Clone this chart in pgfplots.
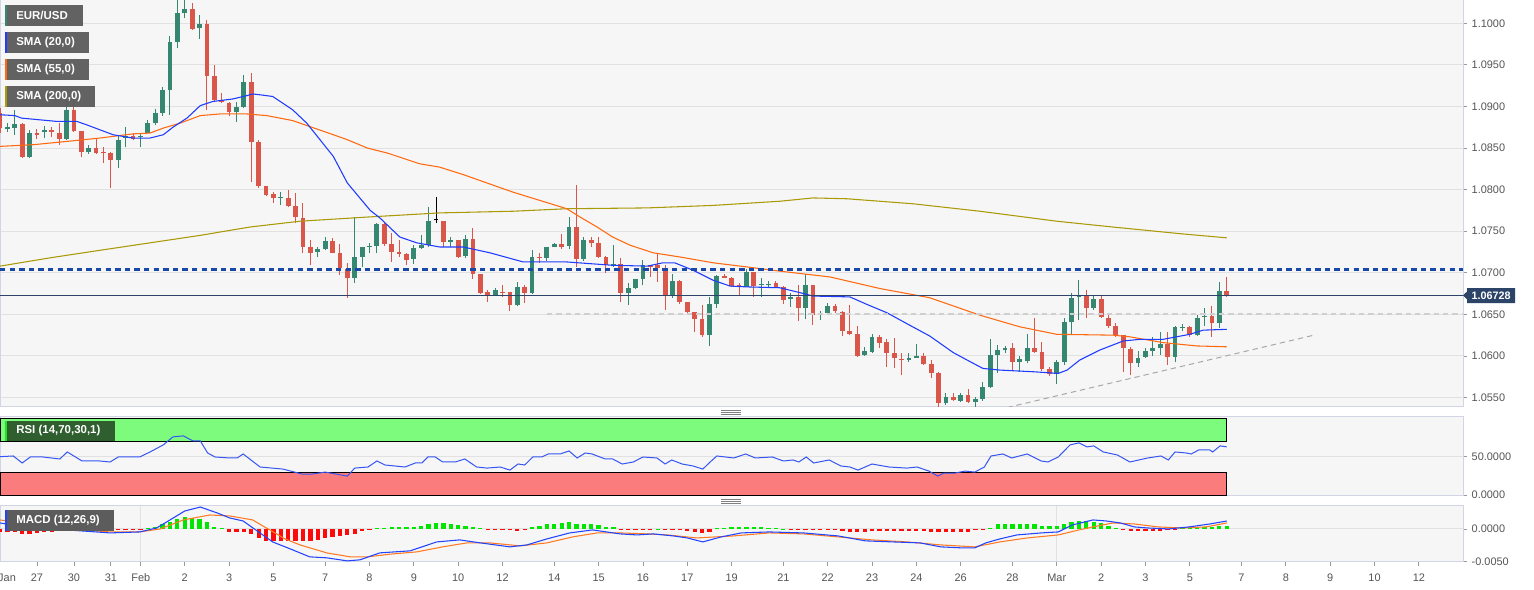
\documentclass[border=0pt]{standalone}
\usepackage{pgfplots}
\pgfplotsset{compat=1.18}
\usepackage{pgfplotstable}
\usepackage{fontspec}
\setmainfont{Liberation Sans}

\definecolor{cup}{HTML}{358771}
\definecolor{cdn}{HTML}{D9574A}
\definecolor{smab}{HTML}{1F3BFF}
\definecolor{smao}{HTML}{FF6A10}
\definecolor{smay}{HTML}{AA9A08}
\definecolor{bgc}{HTML}{F6F6F6}
\definecolor{gridc}{HTML}{E1E1E1}
\definecolor{framec}{HTML}{D2D6E4}
\definecolor{tickc}{HTML}{9A9A9A}
\definecolor{labc}{HTML}{555555}
\definecolor{navyc}{HTML}{2C4468}
\definecolor{dashb}{HTML}{1A48A8}
\definecolor{legbg}{HTML}{5C5C5C}
\definecolor{rsig}{HTML}{7DFB7D}
\definecolor{rsir}{HTML}{FB7C7C}
\definecolor{rsil}{HTML}{3556F2}
\definecolor{rsibox}{HTML}{2F5E2F}
\definecolor{rsistripe}{HTML}{22E022}
\definecolor{hgreen}{HTML}{00E600}
\definecolor{hred}{HTML}{FF0A0A}
\definecolor{macdb}{HTML}{2244FF}
\definecolor{macdo}{HTML}{FF7A22}
\definecolor{lgray}{HTML}{CFCFCF}
\definecolor{tgray}{HTML}{A8A8A8}

% ---------- candles (4h bars), x = bar index ----------
\pgfplotstableread{
x o h l c
1 1.0873 1.0880 1.0869 1.0875
2 1.0874 1.0896 1.0866 1.0879
4 1.0839 1.0872 1.0838 1.0868
6 1.0869 1.0876 1.0862 1.0872
9 1.0861 1.0914 1.0860 1.0896
12 1.0845 1.0854 1.0843 1.0850
16 1.0836 1.0866 1.0826 1.0860
17 1.0862 1.0875 1.0851 1.0864
19 1.0863 1.0868 1.0851 1.0864
20 1.0868 1.0884 1.0868 1.0880
21 1.0880 1.0897 1.0878 1.0892
22 1.0892 1.0923 1.0889 1.0920
23 1.0920 1.0985 1.0890 1.0977
24 1.0977 1.1034 1.0970 1.1012
25 1.1012 1.1034 1.1006 1.1017
27 1.0994 1.1010 1.0981 1.0999
32 1.0893 1.0905 1.0881 1.0899
33 1.0899 1.0938 1.0898 1.0929
38 1.0790 1.0797 1.0781 1.0791
43 1.0725 1.0731 1.0719 1.0729
44 1.0729 1.0743 1.0727 1.0738
48 1.0694 1.0767 1.0688 1.0719
49 1.0719 1.0731 1.0707 1.0731
50 1.0731 1.0736 1.0724 1.0732
51 1.0732 1.0760 1.0724 1.0759
56 1.0717 1.0733 1.0711 1.0730
57 1.0730 1.0745 1.0729 1.0733
58 1.0733 1.0779 1.0731 1.0762
61 1.0737 1.0743 1.0731 1.0739
63 1.0720 1.0745 1.0718 1.0741
67 1.0673 1.0682 1.0672 1.0679
70 1.0661 1.0689 1.0660 1.0683
72 1.0676 1.0727 1.0675 1.0719
74 1.0718 1.0731 1.0714 1.0731
75 1.0731 1.0736 1.0731 1.0735
77 1.0732 1.0767 1.0729 1.0755
79 1.0717 1.0743 1.0714 1.0739
83 1.0708 1.0733 1.0707 1.0711
85 1.0676 1.0688 1.0661 1.0682
86 1.0682 1.0693 1.0681 1.0693
87 1.0693 1.0715 1.0685 1.0709
91 1.0673 1.0699 1.0670 1.0690
96 1.0625 1.0671 1.0612 1.0662
97 1.0662 1.0697 1.0658 1.0696
101 1.0683 1.0705 1.0683 1.0701
103 1.0685 1.0694 1.0671 1.0686
104 1.0685 1.0690 1.0683 1.0686
107 1.0668 1.0676 1.0659 1.0671
109 1.0658 1.0699 1.0644 1.0685
111 1.0649 1.0654 1.0643 1.0652
112 1.0652 1.0664 1.0650 1.0660
117 1.0601 1.0611 1.0600 1.0606
118 1.0605 1.0626 1.0604 1.0623
123 1.0595 1.0604 1.0593 1.0598
124 1.0598 1.0614 1.0598 1.0600
128 1.0543 1.0555 1.0541 1.0551
130 1.0546 1.0555 1.0545 1.0553
132 1.0545 1.0551 1.0537 1.0548
133 1.0548 1.0569 1.0546 1.0563
134 1.0563 1.0620 1.0561 1.0601
135 1.0601 1.0613 1.0579 1.0607
136 1.0607 1.0612 1.0604 1.0610
138 1.0593 1.0600 1.0581 1.0596
139 1.0594 1.0626 1.0591 1.0610
143 1.0578 1.0595 1.0566 1.0593
144 1.0593 1.0646 1.0589 1.0641
145 1.0641 1.0676 1.0626 1.0670
146 1.0671 1.0691 1.0643 1.0673
148 1.0658 1.0672 1.0655 1.0668
154 1.0591 1.0606 1.0587 1.0598
155 1.0599 1.0610 1.0598 1.0606
156 1.0606 1.0623 1.0600 1.0610
157 1.0610 1.0629 1.0601 1.0614
159 1.0599 1.0636 1.0593 1.0635
160 1.0634 1.0638 1.0630 1.0635
162 1.0625 1.0649 1.0624 1.0646
163 1.0647 1.0658 1.0636 1.0648
165 1.0640 1.0689 1.0634 1.0678
}\upc

\pgfplotstableread{
x o h l c
0 1.0892 1.0898 1.0868 1.0874
3 1.0879 1.0880 1.0838 1.0839
5 1.0868 1.0873 1.0861 1.0866
7 1.0872 1.0875 1.0863 1.0869
8 1.0868 1.0880 1.0854 1.0861
10 1.0896 1.0911 1.0869 1.0870
11 1.0870 1.0870 1.0839 1.0845
13 1.0850 1.0861 1.0843 1.0844
14 1.0845 1.0851 1.0832 1.0844
15 1.0844 1.0845 1.0802 1.0836
18 1.0864 1.0868 1.0860 1.0861
26 1.1017 1.1024 1.0992 1.0993
28 1.0999 1.1004 1.0896 1.0937
29 1.0937 1.0950 1.0905 1.0908
30 1.0908 1.0916 1.0904 1.0905
31 1.0904 1.0905 1.0889 1.0893
34 1.0929 1.0940 1.0809 1.0857
35 1.0857 1.0860 1.0802 1.0804
36 1.0804 1.0804 1.0792 1.0793
37 1.0795 1.0797 1.0784 1.0790
39 1.0790 1.0800 1.0779 1.0780
40 1.0780 1.0796 1.0760 1.0767
41 1.0766 1.0784 1.0724 1.0731
42 1.0731 1.0739 1.0709 1.0724
45 1.0738 1.0742 1.0724 1.0724
46 1.0724 1.0735 1.0697 1.0706
47 1.0705 1.0712 1.0670 1.0694
52 1.0759 1.0760 1.0732 1.0735
53 1.0735 1.0748 1.0713 1.0725
54 1.0725 1.0739 1.0719 1.0723
55 1.0723 1.0724 1.0709 1.0715
60 1.0762 1.0762 1.0731 1.0737
62 1.0739 1.0739 1.0718 1.0719
64 1.0741 1.0754 1.0693 1.0699
65 1.0699 1.0699 1.0675 1.0676
66 1.0677 1.0679 1.0665 1.0673
68 1.0677 1.0685 1.0671 1.0676
69 1.0677 1.0677 1.0654 1.0661
71 1.0683 1.0685 1.0664 1.0676
73 1.0719 1.0724 1.0712 1.0718
76 1.0735 1.0747 1.0729 1.0731
78 1.0755 1.0806 1.0707 1.0717
80 1.0739 1.0743 1.0731 1.0736
81 1.0736 1.0743 1.0718 1.0719
82 1.0719 1.0720 1.0700 1.0709
84 1.0711 1.0718 1.0665 1.0676
88 1.0709 1.0709 1.0695 1.0707
89 1.0709 1.0723 1.0689 1.0706
90 1.0706 1.0709 1.0655 1.0673
92 1.0690 1.0691 1.0662 1.0665
93 1.0665 1.0665 1.0652 1.0653
94 1.0653 1.0653 1.0629 1.0644
95 1.0644 1.0661 1.0623 1.0625
98 1.0696 1.0699 1.0694 1.0694
99 1.0694 1.0695 1.0683 1.0684
100 1.0685 1.0688 1.0673 1.0683
102 1.0701 1.0701 1.0671 1.0684
105 1.0688 1.0690 1.0682 1.0683
106 1.0683 1.0684 1.0662 1.0667
108 1.0671 1.0685 1.0642 1.0658
110 1.0685 1.0685 1.0637 1.0649
113 1.0660 1.0662 1.0652 1.0654
114 1.0653 1.0654 1.0624 1.0630
115 1.0630 1.0661 1.0625 1.0626
116 1.0626 1.0636 1.0599 1.0600
119 1.0623 1.0625 1.0610 1.0616
120 1.0617 1.0620 1.0587 1.0604
121 1.0604 1.0622 1.0585 1.0598
122 1.0596 1.0604 1.0577 1.0595
125 1.0600 1.0604 1.0589 1.0590
126 1.0590 1.0595 1.0573 1.0579
127 1.0579 1.0581 1.0537 1.0543
129 1.0551 1.0555 1.0546 1.0547
131 1.0553 1.0560 1.0543 1.0545
137 1.0610 1.0616 1.0583 1.0593
140 1.0610 1.0646 1.0604 1.0605
141 1.0605 1.0617 1.0582 1.0584
142 1.0584 1.0587 1.0576 1.0578
147 1.0673 1.0679 1.0646 1.0658
149 1.0668 1.0672 1.0646 1.0647
150 1.0646 1.0650 1.0634 1.0636
151 1.0636 1.0640 1.0623 1.0625
152 1.0625 1.0625 1.0581 1.0610
153 1.0608 1.0611 1.0577 1.0591
158 1.0614 1.0629 1.0589 1.0599
161 1.0635 1.0636 1.0623 1.0625
164 1.0648 1.0660 1.0623 1.0640
166 1.0678 1.0695 1.0671 1.06728
}\dnc

\pgfplotstableread{
x o h l c
59 1.0763 1.0791 1.0760 1.0763
}\blkc

% ---------- moving averages ----------
\pgfplotstableread{
x y
0 1.0890
2.0 1.0889
2.9 1.0886
7.7 1.0882
10.4 1.0882
11.7 1.0878
13.5 1.0872
15.3 1.0866
18.0 1.0862
20.3 1.0862
22.1 1.0866
23.4 1.0875
25.3 1.0886
27.1 1.0901
28.8 1.0906
31.5 1.0909
33.4 1.0913
34.2 1.0915
35.2 1.0914
36.9 1.0912
39.6 1.0896
41.5 1.0880
43.3 1.0860
45.1 1.0840
47.0 1.0808
50.1 1.0775
51.4 1.0766
54.1 1.0743
56.4 1.0736
59.5 1.0731
62.7 1.0731
66.3 1.0724
70.8 1.0713
76.7 1.0713
82.9 1.0709
87.6 1.0708
89.7 1.0712
91.3 1.0712
93.8 1.0703
96.5 1.0691
98.8 1.0684
101.1 1.0683
105.5 1.0682
108.3 1.0676
110.0 1.0672
115.0 1.0671
117.3 1.0662
120.0 1.0652
123.5 1.0635
125.8 1.0624
129.0 1.0604
131.3 1.0593
133.0 1.0585
135.3 1.0583
139.8 1.0581
143.2 1.0579
144.4 1.0583
146.1 1.0595
148.8 1.0607
152.0 1.0618
154.3 1.0620
157.4 1.0620
161.0 1.0626
162.8 1.0631
166.0 1.0632
}\smatwenty

\pgfplotstableread{
x y
0 1.0852
4.5 1.0854
9.1 1.0858
13.5 1.0862
18.0 1.0867
20.3 1.0868
22.1 1.0874
24.4 1.0880
27.1 1.0889
29.8 1.0891
33.4 1.0891
36.1 1.0889
39.6 1.0883
45.1 1.0866
47.0 1.0860
49.7 1.0850
52.4 1.0844
54.1 1.0839
56.8 1.0831
59.5 1.0827
62.7 1.0818
69.4 1.0797
76.7 1.0777
78.5 1.0767
80.8 1.0755
82.9 1.0743
85.3 1.0733
88.4 1.0724
92.0 1.0719
96.5 1.0712
101.1 1.0707
105.5 1.0702
112.3 1.0695
119.1 1.0681
125.8 1.0670
132.6 1.0649
138.0 1.0635
143.0 1.0626
150.6 1.0625
152.9 1.0623
157.4 1.0616
162.0 1.0612
166.0 1.0611
}\smafiftyfive

\pgfplotstableread{
x y
0 1.0708
6.8 1.0718
13.5 1.0727
20.3 1.0736
27.1 1.0745
33.8 1.0755
40.6 1.0762
49.7 1.0767
59.5 1.0772
69.4 1.0774
76.7 1.0777
87.6 1.0778
96.5 1.0781
105.5 1.0786
110.0 1.0790
114.6 1.0789
123.5 1.0783
132.6 1.0774
143.0 1.0762
150.6 1.0755
159.7 1.0747
166.0 1.0742
}\smatwohundred

% ---------- RSI ----------
\pgfplotstableread{
x v
0 50.0
1.8 50.9
3.0 41.8
4.1 49.6
5.8 49.6
8.1 47.0
9.1 56.1
11.1 44.4
13.5 44.4
14.9 43.1
16.0 49.6
18.9 49.6
20.3 56.1
22.1 65.3
23.4 75.7
24.8 77.0
26.1 70.5
27.1 70.5
28.1 54.8
29.1 49.6
31.1 48.3
32.1 48.3
32.9 53.5
35.2 36.6
38.3 33.9
40.9 27.4
42.2 27.4
44.0 30.0
47.0 24.8
48.0 35.2
49.8 36.6
51.0 44.4
52.1 39.2
54.8 36.6
56.2 41.8
57.1 41.8
57.9 49.6
58.9 49.6
59.9 43.1
61.6 43.1
62.9 47.0
64.5 36.6
65.9 35.2
67.7 36.6
69.0 32.6
70.1 40.5
71.0 39.2
72.1 49.6
73.3 49.6
74.2 53.5
75.8 53.5
77.0 57.4
78.1 48.3
79.2 54.8
80.1 53.5
81.9 47.0
82.9 47.0
84.2 40.5
85.7 43.1
87.0 49.6
88.9 48.3
90.0 40.5
90.9 45.7
92.3 40.5
93.8 37.9
95.1 33.9
96.1 43.1
97.0 50.9
99.3 48.3
100.9 53.5
102.2 48.3
104.5 49.6
106.0 44.4
107.3 45.7
108.1 43.1
109.1 49.6
110.1 41.8
112.2 45.7
113.8 37.9
115.0 36.6
116.1 32.6
118.0 40.5
120.3 36.6
122.7 35.2
124.1 36.6
125.7 31.3
126.9 24.8
127.7 28.7
129.2 28.7
130.6 31.3
131.9 30.0
133.2 36.6
134.1 50.9
135.7 53.5
136.9 48.3
139.0 53.5
140.9 44.4
141.8 43.1
143.2 49.6
144.8 65.3
146.0 67.9
147.1 62.7
148.0 64.0
149.3 56.1
151.2 52.2
152.9 43.1
155.3 48.3
157.1 50.9
158.1 45.7
159.0 56.1
160.5 54.8
161.2 53.5
162.2 58.7
163.7 58.7
164.1 56.1
165.1 64.0
166.0 62.7
}\rsidata

% ---------- MACD ----------
\pgfplotstableread{
x v
0 0.00092
2.3 0.00046
4.5 0.00015
9.1 -0.00015
14.9 -0.00061
18.9 -0.00046
21.2 0.00015
23.0 0.00138
25.0 0.00275
27.1 0.00336
29.4 0.00245
31.1 0.00168
32.9 0.00122
34.8 -0.00031
36.9 -0.00199
39.6 -0.00321
41.9 -0.00428
44.2 -0.00443
47.0 -0.00490
48.7 -0.00474
51.4 -0.00367
55.5 -0.00336
59.1 -0.00199
62.2 -0.00168
65.0 -0.00214
69.0 -0.00275
71.3 -0.00245
74.0 -0.00153
77.1 -0.00061
80.2 -0.00015
83.9 -0.00076
86.2 -0.00092
88.4 -0.00076
91.1 -0.00107
93.0 -0.00138
95.1 -0.00199
97.6 -0.00122
100.3 -0.00061
104.1 -0.00046
108.7 -0.00061
113.4 -0.00107
117.1 -0.00183
120.8 -0.00199
124.5 -0.00214
127.3 -0.00275
130.2 -0.00291
131.9 -0.00291
133.4 -0.00214
135.3 -0.00153
137.6 -0.00092
140.9 -0.00061
143.2 -0.00046
145.1 0.00061
147.9 0.00138
149.7 0.00122
151.6 0.00092
153.5 0.00031
155.3 0.00015
158.1 0.0
160.9 0.00031
163.7 0.00076
166.0 0.00122
}\macdline

\pgfplotstableread{
x v
0 0.00138
2.7 0.00092
9.1 0.0
14.9 -0.00046
18.9 -0.00046
21.7 0.0
24.8 0.00138
28.4 0.00214
31.1 0.00199
34.2 0.00138
35.5 0.0005
36.9 -0.0004
38.5 -0.0015
40.6 -0.00245
44.2 -0.00367
47.4 -0.00428
49.7 -0.00428
53.2 -0.00382
56.4 -0.00352
59.9 -0.00275
63.2 -0.00214
66.3 -0.00214
70.4 -0.00260
74.0 -0.00214
77.5 -0.00122
80.8 -0.00061
83.9 -0.00061
87.6 -0.00076
90.3 -0.00092
94.3 -0.00138
99.3 -0.00107
104.1 -0.00061
108.7 -0.00076
113.4 -0.00122
118.0 -0.00168
122.7 -0.00199
127.3 -0.00245
131.9 -0.00275
135.3 -0.00199
139.0 -0.00138
143.2 -0.00092
146.0 -0.00015
147.9 0.00031
150.6 0.00092
153.5 0.00076
156.7 0.00031
159.9 0.00015
163.2 0.00031
166.0 0.00092
}\signalline

\pgfplotstableread{
x v
20 0.0002
21 0.00036
22 0.0007
23 0.0011
24 0.0015
25 0.0018
26 0.0017
27 0.0015
28 0.0010
29 0.00036
30 0.0001
51 0.00015
52 0.0002
53 0.00025
54 0.00025
55 0.0003
56 0.00036
57 0.0005
58 0.00077
59 0.0009
60 0.00087
61 0.00077
62 0.0006
63 0.0005
64 0.00025
65 0.0001
72 0.00025
73 0.00046
74 0.0007
75 0.0008
76 0.00087
77 0.0010
78 0.0008
79 0.0008
80 0.0007
81 0.00056
82 0.00036
83 0.00025
89 0.00005
97 0.0001
98 0.0002
99 0.0003
100 0.00035
101 0.00035
102 0.0003
103 0.0003
104 0.0002
105 0.0001
106 0.00005
134 0.0002
135 0.0008
136 0.0008
137 0.0008
138 0.0008
139 0.0008
140 0.0007
141 0.0005
142 0.0004
143 0.0005
144 0.0008
145 0.0010
146 0.0012
147 0.0012
148 0.0011
149 0.0009
150 0.0005
151 0.0002
160 0.0001
161 0.0002
162 0.0003
163 0.0003
164 0.0003
165 0.0004
166 0.0005
}\histpos

\pgfplotstableread{
x v
0 -0.0004
1 -0.0004
2 -0.0005
3 -0.0007
4 -0.0007
5 -0.0006
6 -0.0005
7 -0.0004
8 -0.0003
9 -0.0002
10 -0.00015
11 -0.00015
12 -0.00015
13 -0.00015
14 -0.0001
15 -0.0001
16 -0.0001
17 -0.0001
18 -0.00005
19 -0.00005
31 -0.0004
32 -0.0004
33 -0.0005
34 -0.0007
35 -0.0014
36 -0.0018
37 -0.0019
38 -0.0019
39 -0.0018
40 -0.0019
41 -0.0019
42 -0.0018
43 -0.0017
44 -0.0014
45 -0.0013
46 -0.0011
47 -0.0009
48 -0.0007
49 -0.0003
50 -0.0001
66 -0.0001
67 -0.0001
68 -0.00015
69 -0.0002
70 -0.00025
71 -0.0001
84 -0.0001
85 -0.0001
86 -0.0001
87 -0.0001
88 -0.0001
90 -0.0001
91 -0.0001
92 -0.0002
93 -0.00025
94 -0.0004
95 -0.0006
96 -0.0004
107 -0.00005
108 -0.0001
109 -0.0001
110 -0.0001
111 -0.00015
112 -0.0002
113 -0.0002
114 -0.0003
115 -0.0004
116 -0.0004
117 -0.0004
118 -0.0003
119 -0.0003
120 -0.0003
121 -0.0003
122 -0.0003
123 -0.0003
124 -0.0003
125 -0.0003
126 -0.0004
127 -0.0005
128 -0.0005
129 -0.0005
130 -0.0005
131 -0.0004
132 -0.0002
133 -0.0001
152 -0.0001
153 -0.0003
154 -0.0003
155 -0.0003
156 -0.0003
157 -0.0003
158 -0.0002
159 -0.0001
}\histneg

\pgfplotsset{
  panel/.style={scale only axis, width=1097.25pt, xmin=0, xmax=197.97,
    anchor=north west, clip mode=individual,
    axis background/.style={fill=bgc},
    axis line style={draw=framec, line width=0.75pt},
    tick align=outside, ytick pos=right, yticklabel pos=right,
    major tick length=3pt,
    ymajorgrids, major grid style={draw=gridc, line width=0.7pt},
    minor xtick={19.05,143}, xminorgrids, minor tick length=0pt,
    minor grid style={draw=gridc, line width=0.7pt},
    tick style={draw=tickc, line width=0.6pt},
    tick label style={font=\fontsize{8.2}{9}\selectfont, text=labc},
    scaled y ticks=false, scaled x ticks=false},
  wick/.style={draw=none, mark=none, error bars/.cd, y dir=plus, y explicit,
    error mark=none, error bar style={line width=0.75pt, draw=#1}},
  body/.style={draw=none, mark=none, error bars/.cd, y dir=plus, y explicit,
    error mark=none, error bar style={line width=3.6pt, draw=#1}},
}

\begin{document}
\begin{tikzpicture}
\begin{scope}[x=0.75pt,y=-0.75pt]
\fill[white] (0,0) rectangle (1534,589);
\end{scope}

% ================= main price panel =================
\begin{axis}[panel, at={(0pt,0pt)}, height=305pt,
  ymin=1.0539, ymax=1.1028, xtick=\empty,
  ytick={1.055,1.060,1.065,1.070,1.075,1.080,1.085,1.090,1.095,1.100},
  yticklabels={1.0550,1.0600,1.0650,1.0700,1.0750,1.0800,1.0850,1.0900,1.0950,1.1000}]
\addplot[wick=cup] table[x=x, y=l, y error plus expr={\thisrow{h}-\thisrow{l}}] {\upc};
\addplot[wick=cdn] table[x=x, y=l, y error plus expr={\thisrow{h}-\thisrow{l}}] {\dnc};
\addplot[wick=black] table[x=x, y=l, y error plus expr={\thisrow{h}-\thisrow{l}}] {\blkc};
\addplot[body=cup] table[x=x, y=o, y error plus expr={max(\thisrow{c}-\thisrow{o},0.00013)}] {\upc};
\addplot[body=cdn] table[x=x, y=c, y error plus expr={max(\thisrow{o}-\thisrow{c},0.00013)}] {\dnc};
\addplot[body=black] table[x=x, y=c, y error plus expr={max(\thisrow{o}-\thisrow{c},0.00013)}] {\blkc};
\addplot[draw=smay, line width=0.8pt] table[x=x,y=y] {\smatwohundred};
\addplot[draw=smao, line width=0.8pt] table[x=x,y=y] {\smafiftyfive};
\addplot[draw=smab, line width=0.8pt] table[x=x,y=y] {\smatwenty};
\addplot[draw=dashb, line width=1.9pt, dash pattern=on 4pt off 3.2pt] coordinates {(0,1.0704) (197.97,1.0704)};
\addplot[draw=lgray, line width=1.3pt, dash pattern=on 4pt off 3pt] coordinates {(74,1.0650) (197.97,1.0650)};
\addplot[draw=tgray, line width=0.75pt, dash pattern=on 4pt off 3pt] coordinates {(136.3,1.0538) (177.8,1.0625)};
\addplot[draw=navyc, line width=0.8pt] coordinates {(0,1.06728) (197.97,1.06728)};
\end{axis}

% ================= RSI panel =================
\begin{axis}[panel, at={(0pt,-312.5pt)}, height=59.25pt,
  ymin=-0.6, ymax=101.9, xtick=\empty,
  ytick={0,50}, yticklabels={0.0000,50.0000}]
\addplot[fill=rsig, draw=black, line width=0.6pt] coordinates {(0,70) (166,70) (166,100) (0,100) (0,70)};
\addplot[fill=rsir, draw=black, line width=0.6pt] coordinates {(0,0) (166,0) (166,30) (0,30) (0,0)};
\addplot[draw=rsil, line width=0.75pt] table[x=x,y=v] {\rsidata};
\end{axis}

% ================= MACD panel =================
\begin{axis}[panel, at={(0pt,-378.75pt)}, height=42.5pt,
  ymin=-0.00502, ymax=0.00367,
  ytick={-0.005,0}, yticklabels={-0.0050,0.0000},
  xtick pos=bottom,
  xtick={5,10,15,19.05,25,31,37,44,50,56,62,68,75,81,87,93,99,106,112,118,124,130,137,143,149,155,161,168,174,180,186,192},
  xticklabels={27,30,31,Feb,2,3,5,7,8,9,10,12,14,15,16,17,19,21,22,23,24,26,28,Mar,2,3,5,7,8,9,10,12},
  extra x ticks={0.95}, extra x tick labels={Jan},
  extra x tick style={major tick length=0pt, xticklabel style={yshift=-3pt}},
  xticklabel style={yshift=-2.5pt}]
\addplot[ycomb, draw=hgreen, line width=3.2pt] table[x=x,y=v] {\histpos};
\addplot[ycomb, draw=hred, line width=3.2pt] table[x=x,y=v] {\histneg};
\addplot[draw=macdo, line width=0.8pt] table[x=x,y=v] {\signalline};
\addplot[draw=macdb, line width=0.8pt] table[x=x,y=v] {\macdline};
\end{axis}

% ================= labels, boxes, handles =================
\begin{scope}[x=0.75pt,y=-0.75pt]
\tikzset{legtxt/.style={anchor=west, text=white, inner sep=0pt, font=\bfseries\fontsize{8.6}{10}\selectfont}}
\fill[legbg, opacity=0.96] (5,5) rectangle (83,26);
\fill[cup] (5,5) rectangle (7,26);
\node[legtxt] at (16,15.5) {EUR/USD};
\fill[legbg, opacity=0.96] (5,32) rectangle (89,53);
\fill[smab] (5,32) rectangle (7,53);
\node[legtxt] at (16,42.5) {SMA (20,0)};
\fill[legbg, opacity=0.96] (5,59) rectangle (89,80);
\fill[smao] (5,59) rectangle (7,80);
\node[legtxt] at (16,69.5) {SMA (55,0)};
\fill[legbg, opacity=0.96] (5,86) rectangle (95,107);
\fill[smay] (5,86) rectangle (7,107);
\node[legtxt] at (16,96.5) {SMA (200,0)};
% RSI label
\fill[rsibox] (5,421) rectangle (115,441);
\fill[rsistripe] (5,421) rectangle (7,441);
\node[legtxt] at (16,431) {RSI (14,70,30,1)};
% MACD label
\fill[legbg] (5,510) rectangle (114,531);
\fill[macdb] (5,510) rectangle (7,531);
\node[legtxt] at (16,520.5) {MACD (12,26,9)};
% panel handles
\draw[gray, line width=0.5pt] (721,410)--(741,410) (721,412)--(741,412) (721,414)--(741,414);
\draw[gray, line width=0.5pt] (721,499.5)--(741,499.5) (721,501.5)--(741,501.5) (721,503.5)--(741,503.5);
% price tag
\fill[navyc] (1463,295.4) -- (1467,291.5) -- (1467,288) -- (1515,288) -- (1515,303) -- (1467,303) -- (1467,299.3) -- cycle;
\node[text=white, inner sep=0pt, font=\bfseries\fontsize{8.1}{10}\selectfont] at (1491,295.6) {1.06728};
% fix the picture size to the reference canvas
\pgfresetboundingbox
\path[use as bounding box] (0,0) rectangle (1534,589);
\end{scope}
\end{tikzpicture}
\end{document}
